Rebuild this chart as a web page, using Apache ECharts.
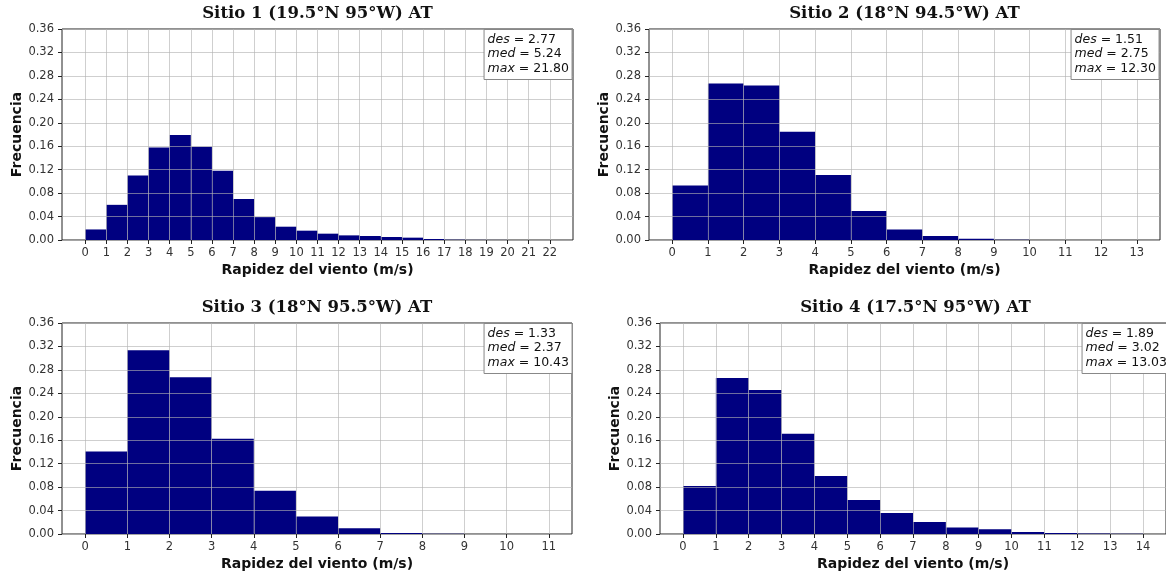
<!DOCTYPE html>
<html><head><meta charset="utf-8">
<script src="https://cdn.jsdelivr.net/npm/echarts@6/dist/echarts.min.js"></script>
<style>html,body{margin:0;padding:0;background:#fff}#c{width:1166px;height:575px}</style>
</head><body><div id="c"></div>
<script>
// ---- Data (bins of width 1 m/s, starting at 0) ----
const panelTitles = ['Sitio 1 (19.5°N 95°W) AT', 'Sitio 2 (18°N 94.5°W) AT', 'Sitio 3 (18°N 95.5°W) AT', 'Sitio 4 (17.5°N 95°W) AT'];
const freqSitio1 = [0.018, 0.060, 0.110, 0.158, 0.179, 0.159, 0.118, 0.070, 0.039, 0.0227, 0.0159, 0.0108, 0.0079, 0.0068, 0.0051, 0.0040, 0.0017, 0.0005, 0.0002, 0.0001, 0.00005, 0.00003];
const freqSitio2 = [0.093, 0.267, 0.2636, 0.1848, 0.111, 0.0493, 0.018, 0.0068, 0.0023, 0.0005, 0.0002, 0.0001, 0.00005];
const freqSitio3 = [0.1406, 0.3135, 0.2676, 0.1627, 0.0737, 0.030, 0.0096, 0.0017, 0.0003, 0.0001, 0.00005];
const freqSitio4 = [0.082, 0.266, 0.2455, 0.171, 0.099, 0.058, 0.0357, 0.0204, 0.0113, 0.0079, 0.0034, 0.0017, 0.0010, 0.0003];
const xTicks1 = [0,1,2,3,4,5,6,7,8,9,10,11,12,13,14,15,16,17,18,19,20,21,22];
const xTicks2 = [0,1,2,3,4,5,6,7,8,9,10,11,12,13];
const xTicks3 = [0,1,2,3,4,5,6,7,8,9,10,11];
const xTicks4 = [0,1,2,3,4,5,6,7,8,9,10,11,12,13,14];
const statDes = ['2.77', '1.51', '1.33', '1.89'];
const statMed = ['5.24', '2.75', '2.37', '3.02'];
const statMax = ['21.80', '12.30', '10.43', '13.03'];
const yName = 'Frecuencia';
const xName = 'Rapidez del viento (m/s)';

// ---- Layout ----
const freqs = [freqSitio1, freqSitio2, freqSitio3, freqSitio4];
const ticks = [xTicks1, xTicks2, xTicks3, xTicks4];
const grids = [
  {left: 62, top: 29, width: 511, height: 211},
  {left: 649, top: 29, width: 511, height: 211},
  {left: 62, top: 323, width: 510, height: 211},
  {left: 660, top: 323, width: 511, height: 211}
];
const boxRight = [594, 7, 594, -4];

const gridColor = 'rgba(178,178,178,0.62)';
const axisColor = '#222';
const font = 'DejaVu Sans';

function renderHist(params, api) {
  const p0 = api.coord([api.value(0), api.value(2)]);
  const p1 = api.coord([api.value(1), 0]);
  return {type: 'rect', shape: {x: p0[0], y: p0[1], width: p1[0] - p0[0], height: p1[1] - p0[1]},
          style: {fill: '#000080'}};
}

const option = {animation: false, grid: [], xAxis: [], yAxis: [], series: [], title: []};
grids.forEach((g, k) => {
  const n = freqs[k].length;
  option.grid.push(Object.assign({show: true, borderColor: axisColor, borderWidth: 1, backgroundColor: 'transparent'}, g));
  option.xAxis.push({
    type: 'value', gridIndex: k, min: -0.05 * n, max: n * 1.05, z: 3, position: 'bottom',
    name: xName, nameLocation: 'middle', nameGap: 23,
    nameTextStyle: {fontFamily: font, fontWeight: 'bold', fontSize: 14, color: '#111'},
    axisLine: {show: false, onZero: false},
    axisTick: {show: true, length: 4, customValues: ticks[k], lineStyle: {color: axisColor}},
    axisLabel: {customValues: ticks[k], margin: 7, fontFamily: font, fontSize: 11.5, color: '#333', formatter: v => String(v)},
    splitLine: {show: true, lineStyle: {color: gridColor, width: 1}}
  });
  option.yAxis.push({
    type: 'value', gridIndex: k, min: 0, max: 0.36, interval: 0.04, z: 3, position: 'left',
    name: yName, nameLocation: 'middle', nameGap: 37, nameRotate: 90,
    nameTextStyle: {fontFamily: font, fontWeight: 'bold', fontSize: 14, color: '#111'},
    axisLine: {show: false, onZero: false},
    axisTick: {show: true, length: 4, lineStyle: {color: axisColor}},
    axisLabel: {margin: 8, fontFamily: font, fontSize: 11.5, color: '#333', formatter: v => v.toFixed(2)},
    splitLine: {show: true, lineStyle: {color: gridColor, width: 1}}
  });
  option.series.push({
    type: 'custom', xAxisIndex: k, yAxisIndex: k, renderItem: renderHist,
    encode: {x: [0, 1], y: 2}, z: 2,
    data: freqs[k].map((v, i) => [i, i + 1, v])
  });
  option.title.push({
    text: panelTitles[k], left: g.left + g.width / 2, top: g.top - 24, textAlign: 'center', padding: 0,
    textStyle: {fontFamily: 'DejaVu Serif', fontWeight: 'bold', fontSize: 16.5, color: '#111'}
  });
  option.title.push({
    text: '{i|des} = ' + statDes[k] + '\n{i|med} = ' + statMed[k] + '\n{i|max} = ' + statMax[k],
    right: boxRight[k], top: g.top, textAlign: 'left',
    backgroundColor: '#fff', borderColor: '#888', borderWidth: 1, padding: [3, 3, 4, 4],
    textStyle: {fontFamily: font, fontWeight: 'normal', fontSize: 12.5, lineHeight: 14.5, color: '#111',
      rich: {i: {fontFamily: font, fontStyle: 'italic', fontSize: 12.5, lineHeight: 14.5, color: '#111'}}}
  });
});

const chart = echarts.init(document.getElementById('c'), null, {renderer: 'canvas'});
chart.setOption(option);
</script>
</body></html>
